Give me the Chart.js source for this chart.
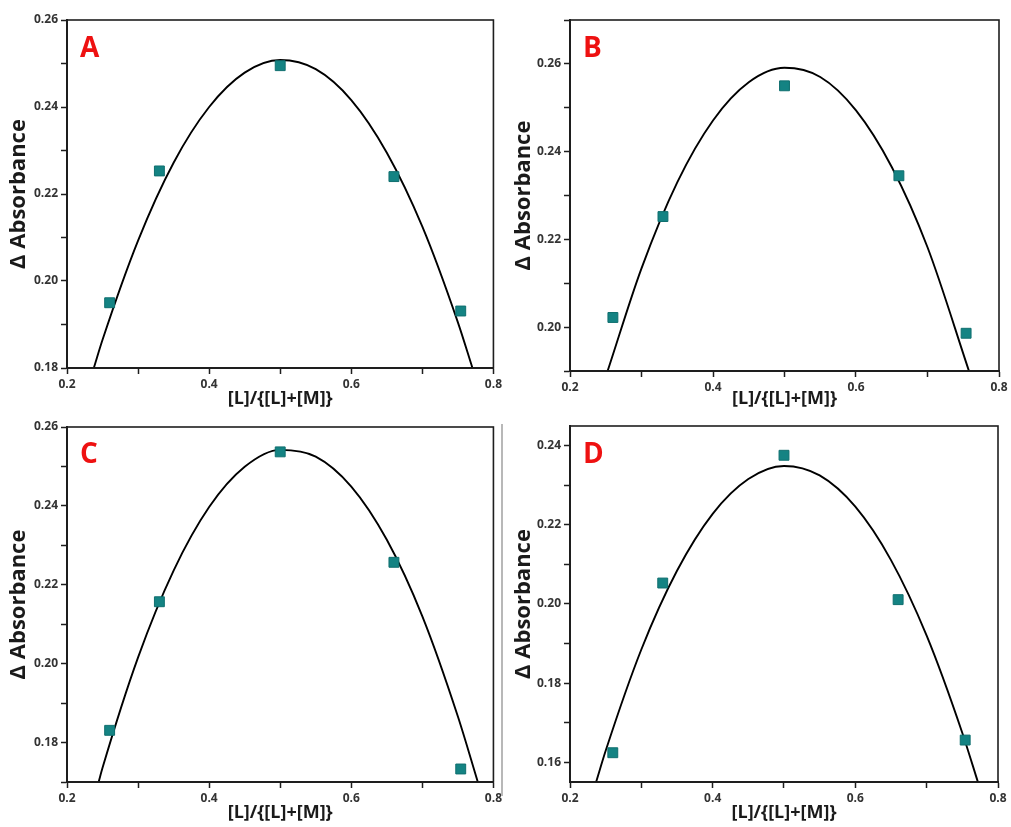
<!DOCTYPE html>
<html>
<head>
<meta charset="utf-8">
<script src="https://cdn.jsdelivr.net/npm/chart.js@4.4.1/dist/chart.umd.min.js"></script>
<style>
  body { margin: 0; background: #fff; }
  #wrap { position: relative; width: 1011px; height: 827px; }
  canvas { position: absolute; }
  .sep { position: absolute; left: 501px; top: 424px; width: 2px; height: 372px; background: #b8b8b8; }
</style>
</head>
<body>
<div id="wrap">
  <canvas id="cA" width="505" height="413" style="left:0;top:0"></canvas>
  <canvas id="cB" width="506" height="413" style="left:505px;top:0"></canvas>
  <canvas id="cC" width="505" height="414" style="left:0;top:413px"></canvas>
  <canvas id="cD" width="506" height="414" style="left:505px;top:413px"></canvas>
  <div class="sep"></div>
</div>
<script>
// mole fraction of ligand for the measured points
const ratioX = [0.26, 0.33, 0.50, 0.66, 0.754];

// measured delta absorbance, panels A-D
const absA = [0.1950, 0.2253, 0.2495, 0.2240, 0.1931];
const absB = [0.2022, 0.2252, 0.2550, 0.2345, 0.1986];
const absC = [0.1831, 0.2157, 0.2537, 0.2257, 0.1733];
const absD = [0.1624, 0.2053, 0.2376, 0.2011, 0.1656];

// fitted curves
const fitXA = [0.2377, 0.25, 0.30, 0.35, 0.40, 0.45, 0.50, 0.55, 0.60, 0.65, 0.70, 0.75, 0.7705];
const fitYA = [0.180, 0.1865, 0.2093, 0.2272, 0.2400, 0.2479, 0.2508, 0.2487, 0.2416, 0.2295, 0.2125, 0.1905, 0.180];
const fitXB = [0.2526, 0.30, 0.35, 0.40, 0.45, 0.50, 0.55, 0.60, 0.65, 0.70, 0.758];
const fitYB = [0.190, 0.2134, 0.2330, 0.2471, 0.2558, 0.2591, 0.2570, 0.2494, 0.2365, 0.2182, 0.190];
const fitXC = [0.2445, 0.25, 0.30, 0.35, 0.40, 0.45, 0.50, 0.55, 0.60, 0.65, 0.70, 0.75, 0.778];
const fitYC = [0.170, 0.1736, 0.2016, 0.2236, 0.2397, 0.2499, 0.2542, 0.2525, 0.2449, 0.2314, 0.2120, 0.1866, 0.170];
const fitXD = [0.2366, 0.25, 0.30, 0.35, 0.40, 0.45, 0.50, 0.55, 0.60, 0.65, 0.70, 0.75, 0.7718];
const fitYD = [0.155, 0.1629, 0.1885, 0.2084, 0.2228, 0.2316, 0.2349, 0.2325, 0.2246, 0.2111, 0.1920, 0.1674, 0.155];

// tick values
const xTicks = [0.2, 0.3, 0.4, 0.5, 0.6, 0.7, 0.8];
const yTicksA = [0.18, 0.19, 0.20, 0.21, 0.22, 0.23, 0.24, 0.25, 0.26];
const yTicksB = [0.19, 0.20, 0.21, 0.22, 0.23, 0.24, 0.25, 0.26, 0.27];
const yTicksC = [0.17, 0.18, 0.19, 0.20, 0.21, 0.22, 0.23, 0.24, 0.25, 0.26];
const yTicksD = [0.16, 0.17, 0.18, 0.19, 0.20, 0.21, 0.22, 0.23, 0.24];

const xTitle = '[L]/{[L]+[M]}';
const yTitle = '\u0394 Absorbance';

const AXIS = '#1e1e1e';
const TEAL = '#148383';

// box round the plot + red panel letter
const panelDeco = {
  id: 'panelDeco',
  afterDraw(chart, args, opts) {
    const { ctx, chartArea: a } = chart;
    ctx.save();
    ctx.strokeStyle = AXIS;
    ctx.lineWidth = 1.6;
    ctx.strokeRect(a.left, a.top, a.right - a.left, a.bottom - a.top);
    ctx.fillStyle = '#ee1111';
    ctx.font = 'bold 28px "Open Sans"';
    ctx.textBaseline = 'alphabetic';
    ctx.fillText(opts.letter, a.left + 13, a.top + opts.base);
    ctx.restore();
  }
};

function makePanel(id, letter, base, pts, fitX, fitY, yMin, yMax, yTicks, box) {
  const tickFont = { family: 'Open Sans', size: 12, weight: 'bold' };
  new Chart(document.getElementById(id), {
    type: 'scatter',
    data: {
      datasets: [
        {
          data: ratioX.map((x, i) => ({ x: x, y: pts[i] })),
          pointStyle: 'rect',
          pointRadius: 7,
          backgroundColor: TEAL,
          borderColor: '#0f6f6f',
          borderWidth: 1
        },
        {
          type: 'line',
          data: fitX.map((x, i) => ({ x: x, y: fitY[i] })),
          borderColor: '#000',
          borderWidth: 1.9,
          pointRadius: 0,
          cubicInterpolationMode: 'monotone',
          fill: false
        }
      ]
    },
    options: {
      responsive: false,
      animation: false,
      layout: { padding: { top: box.top, right: box.right, left: 0, bottom: 0 } },
      plugins: {
        legend: { display: false },
        tooltip: { enabled: false },
        panelDeco: { letter: letter, base: base }
      },
      scales: {
        x: {
          type: 'linear',
          min: 0.2,
          max: 0.8,
          afterBuildTicks: s => { s.ticks = xTicks.map(v => ({ value: v })); },
          afterFit: s => { s.height = box.xH; },
          grid: { drawOnChartArea: false, tickLength: 6, tickColor: AXIS, tickWidth: 1.5 },
          border: { color: AXIS, width: 2 },
          ticks: {
            color: '#333',
            font: tickFont,
            padding: 3,
            maxRotation: 0,
            autoSkip: false,
            callback: v => (Math.round(v * 10) % 2 === 0 ? v.toFixed(1) : '')
          },
          title: {
            display: true,
            text: xTitle,
            color: '#1a1a1a',
            font: { family: 'Open Sans', size: 18, weight: 'bold' },
            padding: { top: 0, bottom: 3 }
          }
        },
        y: {
          min: yMin,
          max: yMax,
          afterBuildTicks: s => { s.ticks = yTicks.map(v => ({ value: v })); },
          afterFit: s => { s.width = box.yW; },
          grid: { drawOnChartArea: false, tickLength: 6, tickColor: AXIS, tickWidth: 1.5 },
          border: { color: AXIS, width: 2 },
          ticks: {
            color: '#333',
            font: tickFont,
            padding: 3,
            autoSkip: false,
            callback: v => (Math.round(v * 100) % 2 === 0 ? v.toFixed(2) : '')
          },
          title: {
            display: true,
            text: yTitle,
            color: '#1a1a1a',
            font: { family: 'Open Sans', size: 22, weight: 'bold' },
            padding: { top: 6, bottom: 0 }
          }
        }
      }
    },
    plugins: [panelDeco]
  });
}

makePanel('cA', 'A', 37, absA, fitXA, fitYA, 0.18, 0.26, yTicksA, { yW: 67, xH: 45, top: 20, right: 8 });
makePanel('cB', 'B', 37, absB, fitXB, fitYB, 0.19, 0.27, yTicksB, { yW: 65, xH: 42, top: 20, right: 12 });
makePanel('cC', 'C', 36, absC, fitXC, fitYC, 0.17, 0.26, yTicksC, { yW: 67, xH: 45, top: 14, right: 8 });
makePanel('cD', 'D', 37, absD, fitXD, fitYD, 0.155, 0.245, yTicksD, { yW: 65, xH: 45, top: 13, right: 13 });
</script>
</body>
</html>
